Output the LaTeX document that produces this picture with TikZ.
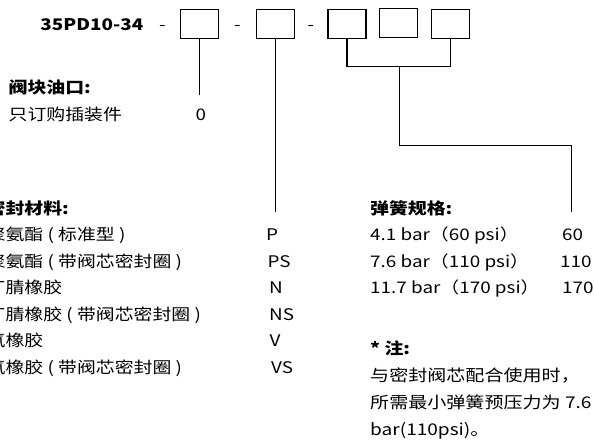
\documentclass[tikz,border=0pt]{standalone}
\usepackage{fontspec}
\setmainfont{Noto Sans CJK SC}[FakeStretch=1.18]
\begin{document}
\begin{tikzpicture}[x=1pt,y=-1pt,
  txt/.style={inner sep=0pt, anchor=west, text height=0.75em, text depth=0pt, font=\fontsize{16}{20}\selectfont},
  hd/.style={txt, font=\fontsize{16}{20}\selectfont\bfseries},
  notetxt/.style={txt, font=\fontsize{16.15}{20}\selectfont},
  codebox/.style={draw, line width=1.1pt, minimum width=38pt, minimum height=28.5pt, inner sep=0pt},
  conn/.style={line width=1.1pt}]
\useasboundingbox (0,0) rectangle (594,440);
% header
\node[hd] (code) at (40.2,26.5) {35PD10-34};
\node[txt] (d1) at (159,26.5) {-};
\node[txt] (d2) at (234,26.5) {-};
\node[txt] (d3) at (307.5,26.5) {-};
\node[codebox] (b1) at (199.9,23.8) {};
\node[codebox] (b2) at (275.4,23.8) {};
\node[codebox] (b3) at (347,23.8) {};
\node[codebox] (b4) at (398.2,22.8) {};
\node[codebox] (b5) at (450.4,23.8) {};
% connector ends
\coordinate (e1) at (199.9,95);
\coordinate (e2) at (275.4,211.7);
\coordinate (j) at (399.3,66.7);
\coordinate (k) at (571.7,145.7);
\coordinate (e3) at (571.7,211.7);
\draw[conn] (b1.south) -- (e1);
\draw[conn] (b2.south) -- (e2);
\draw[conn] (b3.south) |- (j) -| (b5.south);
\draw[conn] (j) |- (k) -- (e3);
% block port
\node[hd] (h1) at (8.5,90) {阀块油口:};
\node[txt] (t1) at (8.5,117) {只订购插装件};
\node[txt] (v1) at (195.5,117) {0};
% seal material
\node[hd] (h2) at (-13.5,210.5) {密封材料:};
\node[txt] (s1) at (-13.5,237) {聚氨酯 ( 标准型 )};
\node[txt] (s2) at (-13.5,263.5) {聚氨酯 ( 带阀芯密封圈 )};
\node[txt] (s3) at (-13.5,290) {丁腈橡胶};
\node[txt] (s4) at (-13.5,316.5) {丁腈橡胶 ( 带阀芯密封圈 )};
\node[txt] (s5) at (-13.5,343) {氟橡胶};
\node[txt] (s6) at (-13.5,369.5) {氟橡胶 ( 带阀芯密封圈 )};
\node[txt] (c1) at (266,237) {P};
\node[txt] (c2) at (267.5,263.5) {PS};
\node[txt] (c3) at (269,290) {N};
\node[txt] (c4) at (269,316.5) {NS};
\node[txt] (c5) at (269.5,343) {V};
\node[txt] (c6) at (271,369.5) {VS};
% spring
\node[hd] (h3) at (370,210.5) {弹簧规格:};
\node[txt] (p1) at (370,237) {4.1 bar（60 psi）};
\node[txt] (p2) at (370,263.5) {7.6 bar（110 psi）};
\node[txt] (p3) at (370,290) {11.7 bar（170 psi）};
\node[txt] (q1) at (562,237) {60};
\node[txt] (q2) at (560,263.5) {110};
\node[txt] (q3) at (562,290) {170};
% note
\node[hd] (h4) at (370,350.5) {* 注:};
\node[notetxt] (n1) at (370,378) {与密封阀芯配合使用时，};
\node[notetxt] (n2) at (370,405) {所需最小弹簧预压力为 7.6};
\node[notetxt] (n3) at (370,432) {bar(110psi)。};
\end{tikzpicture}
\end{document}
